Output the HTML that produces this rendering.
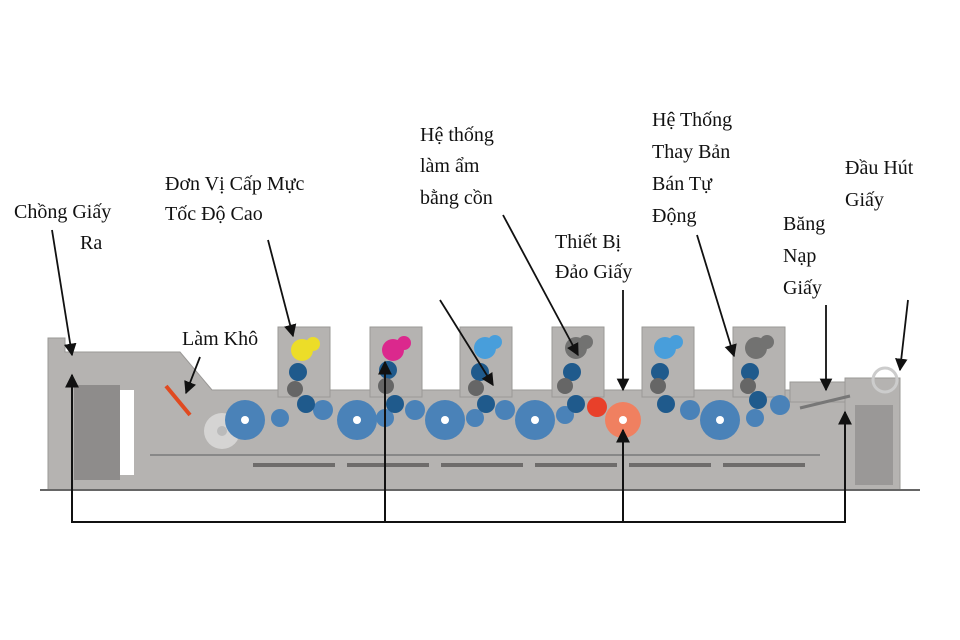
<!DOCTYPE html>
<html><head><meta charset="utf-8"><style>
html,body{margin:0;padding:0;background:#fff}
svg{display:block}
text{font-family:"Liberation Serif","DejaVu Serif",serif;font-size:20px;fill:#111}
</style></head><body>
<svg width="960" height="640" viewBox="0 0 960 640" xmlns="http://www.w3.org/2000/svg">
<defs>
<marker id="a" viewBox="0 0 10 10" refX="9" refY="5" markerWidth="7" markerHeight="7" orient="auto-start-reverse"><path d="M0,0L10,5L0,10z" fill="#111"/></marker>
</defs>
<g fill="#b5b3b1" stroke="#9a9896" stroke-width="1">
<path d="M48,338 L65,338 L65,352 L180,352 L212,390 L900,390 L900,490 L48,490 Z"/>
<rect x="278" y="327" width="52" height="70"/>
<rect x="370" y="327" width="52" height="70"/>
<rect x="460" y="327" width="52" height="70"/>
<rect x="552" y="327" width="52" height="70"/>
<rect x="642" y="327" width="52" height="70"/>
<rect x="733" y="327" width="52" height="70"/>
<rect x="790" y="382" width="55" height="20"/>
<rect x="845" y="378" width="55" height="112"/>
</g>
<rect x="74" y="385" width="46" height="95" fill="#8e8c8b"/>
<rect x="120" y="390" width="14" height="85" fill="#fff"/>
<rect x="855" y="405" width="38" height="80" fill="#9a9897"/>
<line x1="150" y1="455" x2="820" y2="455" stroke="#888" stroke-width="2"/>
<g fill="#6e6c6b"><rect x="253" y="463" width="82" height="4"/><rect x="347" y="463" width="82" height="4"/><rect x="441" y="463" width="82" height="4"/><rect x="535" y="463" width="82" height="4"/><rect x="629" y="463" width="82" height="4"/><rect x="723" y="463" width="82" height="4"/></g>
<line x1="40" y1="490" x2="920" y2="490" stroke="#666" stroke-width="2"/>
<line x1="166" y1="386" x2="190" y2="415" stroke="#e04a20" stroke-width="4"/>
<circle cx="222" cy="431" r="18" fill="#d5d4d3"/>
<g opacity="0.9">
<circle cx="302" cy="350" r="11" fill="#f2e21a"/><circle cx="313" cy="344" r="7" fill="#f2e21a"/>
<circle cx="393" cy="350" r="11" fill="#e01a8a"/><circle cx="404" cy="343" r="7" fill="#e01a8a"/>
<circle cx="485" cy="348" r="11" fill="#3d9ce0"/><circle cx="495" cy="342" r="7" fill="#3d9ce0"/>
<circle cx="576" cy="348" r="11" fill="#6b6b6b"/><circle cx="586" cy="342" r="7" fill="#6b6b6b"/>
<circle cx="665" cy="348" r="11" fill="#3d9ce0"/><circle cx="676" cy="342" r="7" fill="#3d9ce0"/>
<circle cx="756" cy="348" r="11" fill="#6b6b6b"/><circle cx="767" cy="342" r="7" fill="#6b6b6b"/>
</g>
<g fill="#4a82b8">
<circle cx="245" cy="420" r="20"/><circle cx="357" cy="420" r="20"/><circle cx="445" cy="420" r="20"/><circle cx="535" cy="420" r="20"/><circle cx="720" cy="420" r="20"/>
<circle cx="280" cy="418" r="9"/><circle cx="323" cy="410" r="10"/><circle cx="385" cy="418" r="9"/><circle cx="415" cy="410" r="10"/><circle cx="475" cy="418" r="9"/><circle cx="505" cy="410" r="10"/><circle cx="565" cy="415" r="9"/><circle cx="690" cy="410" r="10"/><circle cx="755" cy="418" r="9"/><circle cx="780" cy="405" r="10"/>
</g>
<g fill="#1f5a8c">
<circle cx="298" cy="372" r="9"/><circle cx="306" cy="404" r="9"/><circle cx="388" cy="370" r="9"/><circle cx="395" cy="404" r="9"/><circle cx="480" cy="372" r="9"/><circle cx="486" cy="404" r="9"/><circle cx="572" cy="372" r="9"/><circle cx="576" cy="404" r="9"/><circle cx="660" cy="372" r="9"/><circle cx="666" cy="404" r="9"/><circle cx="750" cy="372" r="9"/><circle cx="758" cy="400" r="9"/>
</g>
<g fill="#666"><circle cx="295" cy="389" r="8"/><circle cx="386" cy="386" r="8"/><circle cx="476" cy="388" r="8"/><circle cx="565" cy="386" r="8"/><circle cx="658" cy="386" r="8"/><circle cx="748" cy="386" r="8"/></g>
<circle cx="597" cy="407" r="10" fill="#e8402a"/>
<circle cx="623" cy="420" r="18" fill="#f08060"/>
<g fill="#fff"><circle cx="245" cy="420" r="4"/><circle cx="357" cy="420" r="4"/><circle cx="445" cy="420" r="4"/><circle cx="535" cy="420" r="4"/><circle cx="623" cy="420" r="4"/><circle cx="720" cy="420" r="4"/><circle cx="222" cy="431" r="5" fill="#bbb"/></g>
<line x1="800" y1="408" x2="850" y2="396" stroke="#777" stroke-width="3"/>
<circle cx="885" cy="380" r="12" fill="none" stroke="#ccc" stroke-width="3"/>
<polyline points="72,375 72,522 845,522 845,412" fill="none" stroke="#111" stroke-width="2" marker-start="url(#a)" marker-end="url(#a)"/>
<line x1="385" y1="522" x2="385" y2="362" stroke="#111" stroke-width="2" marker-end="url(#a)"/>
<line x1="623" y1="522" x2="623" y2="430" stroke="#111" stroke-width="2" marker-end="url(#a)"/>
<g stroke="#111" stroke-width="1.8" marker-end="url(#a)">
<line x1="52" y1="230" x2="72" y2="355"/>
<line x1="268" y1="240" x2="293" y2="336"/>
<line x1="200" y1="357" x2="186" y2="393"/>
<line x1="503" y1="215" x2="578" y2="355"/>
<line x1="440" y1="300" x2="493" y2="385"/>
<line x1="623" y1="290" x2="623" y2="390"/>
<line x1="697" y1="235" x2="734" y2="356"/>
<line x1="826" y1="305" x2="826" y2="390"/>
<line x1="908" y1="300" x2="900" y2="370"/>
</g>
<text x="14" y="218">Chồng Giấy</text><text x="80" y="249">Ra</text>
<text x="165" y="190">Đơn Vị Cấp Mực</text><text x="165" y="220">Tốc Độ Cao</text>
<text x="182" y="345">Làm Khô</text>
<text x="420" y="141">Hệ thống</text><text x="420" y="172">làm ẩm</text><text x="420" y="204">bằng cồn</text>
<text x="555" y="248">Thiết Bị</text><text x="555" y="278">Đảo Giấy</text>
<text x="652" y="126">Hệ Thống</text><text x="652" y="158">Thay Bản</text><text x="652" y="190">Bán Tự</text><text x="652" y="222">Động</text>
<text x="783" y="230">Băng</text><text x="783" y="262">Nạp</text><text x="783" y="294">Giấy</text>
<text x="845" y="174">Đầu Hút</text><text x="845" y="206">Giấy</text>
</svg>
</body></html>
